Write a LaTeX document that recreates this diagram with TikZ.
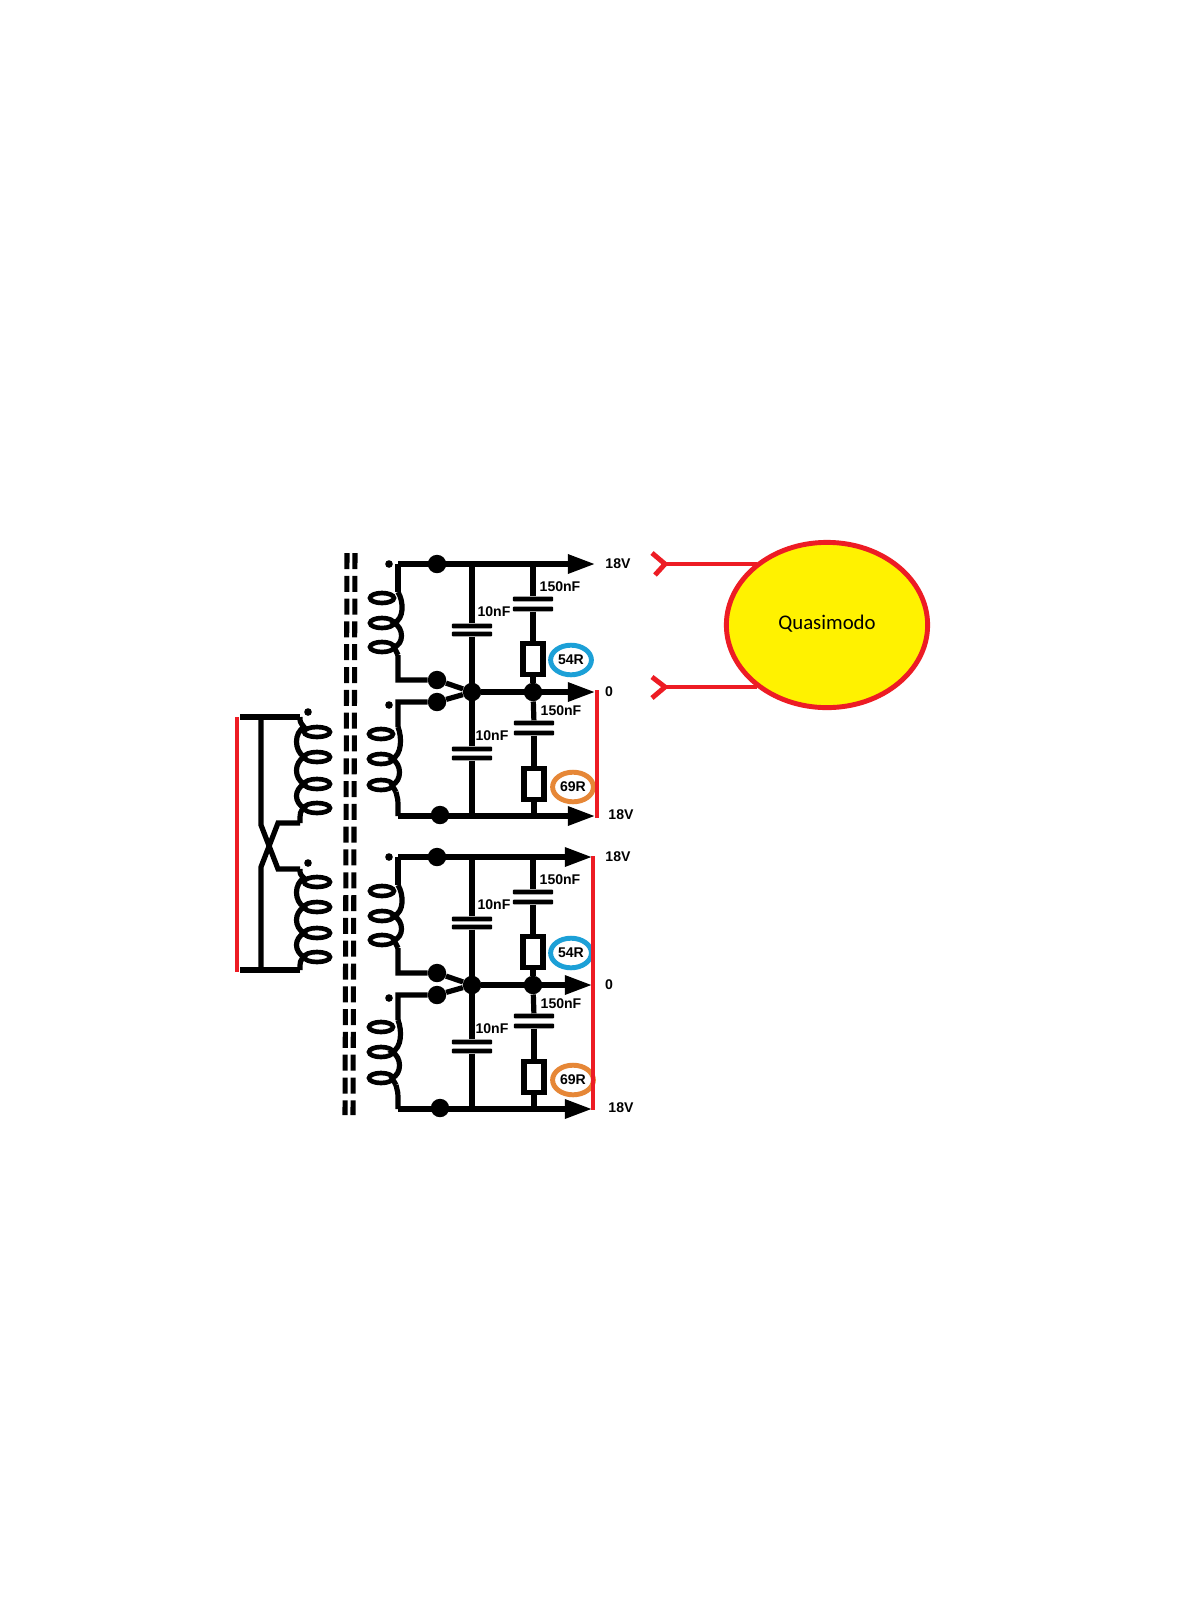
\documentclass[tikz,border=0pt]{standalone}
\usepackage{fontspec}
\setmainfont{Liberation Sans}
\newfontfamily\calibrilike{Carlito}
\usetikzlibrary{arrows.meta,positioning,shapes.geometric}

\begin{document}
\begin{tikzpicture}[
    x=0.025cm, y=-0.025cm,
    wire/.style={line width=3.7pt},
    coilwire/.style={line width=3.3pt},
    redwire/.style={draw=myred, line width=3.5pt},
    railarrow/.style={wire, -{Triangle[length=0.68cm,width=0.46cm]}},
    bigdot/.style={circle, fill=black, inner sep=0pt, minimum size=0.46cm},
    smalldot/.style={circle, fill=black, inner sep=0pt, minimum size=0.19cm},
    plate/.style={fill=black, inner sep=0pt, minimum width=1cm, minimum height=0.115cm, rounded corners=0.5pt},
    resbox/.style={draw, fill=white, line width=3.7pt, inner sep=0pt, minimum width=0.5cm, minimum height=0.77cm},
    partlabel/.style={font=\fontsize{10}{11}\selectfont\bfseries, inner sep=0pt},
    railabel/.style={font=\fontsize{10}{11}\selectfont\bfseries, inner sep=0pt},
    valring/.style={ellipse, line width=3.5pt, fill=white, inner sep=0pt, minimum width=1.02cm, minimum height=0.74cm, font=\fontsize{10}{11}\selectfont\bfseries}
]
    \definecolor{myred}{RGB}{237,28,36}
    \definecolor{myblue}{RGB}{28,160,215}
    \definecolor{myorange}{RGB}{230,135,55}
    \definecolor{myyellow}{RGB}{255,242,0}
    \useasboundingbox (0,0) rectangle (1200,1600);
    \fill[white] (0,0) rectangle (1200,1600);

    % Core
    \coordinate (coreAt) at (347,553);
    \coordinate (coreAb) at (345,1115);
    \coordinate (coreBt) at (355,553);
    \coordinate (coreBb) at (353,1115);
    \draw[line width=3.6pt, dash pattern=on 0.4cm off 0.17cm] (coreAt) -- (coreAb);
    \draw[line width=3.6pt, dash pattern=on 0.4cm off 0.17cm] (coreBt) -- (coreBb);

    % Output sections
    \foreach \n/\dy/\tip in {a/0/595,b/293/592} {
        \begin{scope}[yshift=-\dy*0.025cm]
            % Rail points
            \coordinate (topstart\n) at (398,564);
            \coordinate (toptip\n) at (\tip,564);
            \coordinate (midtip\n) at (\tip,692);
            \coordinate (lowstart\n) at (398,816);
            \coordinate (lowtip\n) at (\tip,816);
            \coordinate (secAin\n) at (398,592);
            \coordinate (secAout\n) at (398,655);
            \coordinate (secAknee\n) at (398,680);
            \coordinate (secBknee\n) at (398,702);
            \coordinate (secBin\n) at (398,727);
            \coordinate (secBout\n) at (396,792);
            \node[smalldot] (phaseA\n) at (389,564) {};
            \node[smalldot] (phaseB\n) at (389,705) {};
            \node[bigdot] (topdot\n) at (437,564) {};
            \node[bigdot] (hubA\n) at (437,680) {};
            \node[bigdot] (hubB\n) at (437,702) {};
            \node[bigdot] (junction\n) at (472,692) {};
            \node[bigdot] (rcdot\n) at (533,692) {};
            \node[bigdot] (lowdot\n) at (440,815) {};
            \coordinate (tapA\n) at (472,564);
            \coordinate (tapB\n) at (533,564);
            \coordinate (tapC\n) at (472,816);
            \coordinate (tapD\n) at (534,816);
            % Capacitors and resistors
            \node[plate] (capAt\n) at (472,626) {};
            \node[plate] (capAb\n) at (472,634) {};
            \node[plate] (capBt\n) at (472,749) {};
            \node[plate] (capBb\n) at (472,758) {};
            \node[plate] (snubAt\n) at (533,599) {};
            \node[plate] (snubAb\n) at (533,609) {};
            \node[plate] (snubBt\n) at (534,723) {};
            \node[plate] (snubBb\n) at (534,733) {};
            \node[resbox] (resA\n) at (533,659) {};
            \node[resbox] (resB\n) at (534,784) {};
            % Wires
            \draw[railarrow] (topstart\n) -- (toptip\n);
            \draw[railarrow] (junction\n) -- (midtip\n);
            \draw[railarrow] (lowstart\n) -- (lowtip\n);
            \draw[wire] (topstart\n) -- (secAin\n);
            \draw[wire] (secAout\n) -- (secAknee\n) -- (hubA\n) -- (junction\n);
            \draw[wire] (secBin\n) -- (secBknee\n) -- (hubB\n) -- (junction\n);
            \draw[wire] (secBout\n) .. controls (398,798) .. (lowstart\n);
            \draw[wire] (tapA\n) -- (capAt\n);
            \draw[wire] (capAb\n) -- (capBt\n);
            \draw[wire] (capBb\n) -- (tapC\n);
            \draw[wire] (tapB\n) -- (snubAt\n);
            \draw[wire] (snubAb\n) -- (resA\n);
            \draw[wire] (resA\n) -- (rcdot\n);
            \draw[wire] (rcdot\n) -- (snubBt\n);
            \draw[wire] (snubBb\n) -- (resB\n);
            \draw[wire] (resB\n) -- (tapD\n);
            % Secondary windings
            \foreach \cy in {598,623,647}
                \draw[coilwire] (382,\cy) ellipse [x radius=12, y radius=5];
            \foreach \cy in {734,759,785}
                \draw[coilwire] (381,\cy) ellipse [x radius=12, y radius=5];
            \draw[wire] (secAin\n) .. controls (404,602) and (404,619) .. (394,623)
                .. controls (404,628) and (404,644) .. (394,647) -- (secAout\n);
            \draw[wire] (secBin\n) .. controls (402,737) and (402,755) .. (392,759)
                .. controls (402,764) and (402,781) .. (392,785) -- (secBout\n);
            % Labels
            \node[railabel] (railtop\n) at (618,564) {18V};
            \node[railabel] (railmid\n) at (609,692) {0};
            \node[railabel] (raillow\n) at (621,815) {18V};
            \node[partlabel] (valAa\n) at (560,587) {150nF};
            \node[partlabel] (valAb\n) at (494,612) {10nF};
            \node[partlabel] (valBa\n) at (561,711) {150nF};
            \node[partlabel] (valBb\n) at (492,736) {10nF};
            \node[valring, draw=myblue] (ringA\n) at (571,660) {54R};
            \node[valring, draw=myorange] (ringB\n) at (573,787) {69R};
        \end{scope}
    }

    % Red links on the outputs
    \coordinate (linkAt) at (597,690);
    \coordinate (linkAb) at (597,818);
    \coordinate (linkBt) at (593,856);
    \coordinate (linkBb) at (593,1110);
    \draw[redwire] (linkAt) -- (linkAb);
    \draw[redwire] (linkBt) -- (linkBb);

    % Primary
    \coordinate (primTopL) at (237,717);
    \coordinate (primBotL) at (237,972);
    \coordinate (primStart) at (240,717);
    \coordinate (primTopR) at (300,717);
    \coordinate (primTap) at (261,717);
    \coordinate (primBotR) at (300,970);
    \coordinate (primEnd) at (240,970);
    \coordinate (primTapB) at (261,970);
    \coordinate (crossAa) at (261,825);
    \coordinate (crossAb) at (278,869);
    \coordinate (crossAc) at (300,869);
    \coordinate (crossBa) at (300,823);
    \coordinate (crossBb) at (278,823);
    \coordinate (crossBc) at (261,867);
    \node[smalldot] (phaseP) at (308,712) {};
    \node[smalldot] (phaseQ) at (308,863) {};
    \foreach \cy in {732,757,784,808,882,907,933,957}
        \draw[coilwire] (317,\cy) ellipse [x radius=13, y radius=5];
    \draw[redwire] (primTopL) -- (primBotL);
    \draw[wire] (primStart) -- (primTopR);
    \draw[wire] (primTap) -- (crossAa) -- (crossAb) -- (crossAc);
    \draw[wire] (primBotR) -- (primEnd);
    \draw[wire] (primTapB) -- (crossBc) -- (crossBb) -- (crossBa);
    \draw[wire] (primTopR) .. controls (300,722) .. (304,727)
        .. controls (294,733) and (294,750) .. (304,757)
        .. controls (294,763) and (294,778) .. (304,784)
        .. controls (294,790) and (294,802) .. (304,808)
        .. controls (300,812) .. (crossBa);
    \draw[wire] (crossAc) .. controls (300,874) .. (304,878)
        .. controls (294,884) and (294,901) .. (304,907)
        .. controls (294,913) and (294,927) .. (304,933)
        .. controls (294,939) and (294,951) .. (304,957)
        .. controls (300,961) .. (primBotR);

    % Load
    \node[ellipse, draw=myred, fill=myyellow, line width=3.5pt, inner sep=0pt,
          minimum width=5.03cm, minimum height=4.13cm] (load) at (827,625) {};
    \node[font=\calibrilike\fontsize{14.8}{16}\selectfont, inner sep=0pt] (loadname) at (827,624) {Quasimodo};
    \coordinate (plugA) at (665,564);
    \coordinate (plugAu) at (652,553);
    \coordinate (plugAd) at (655,575);
    \coordinate (plugB) at (665,687);
    \coordinate (plugBu) at (652,677);
    \coordinate (plugBd) at (652,698);
    \draw[redwire] (plugA) -- (load.138 |- plugA);
    \draw[redwire] (plugB) -- (load.222 |- plugB);
    \draw[redwire, line join=round] (plugAu) -- (plugA) -- (plugAd);
    \draw[redwire, line join=round] (plugBu) -- (plugB) -- (plugBd);
\end{tikzpicture}
\end{document}
